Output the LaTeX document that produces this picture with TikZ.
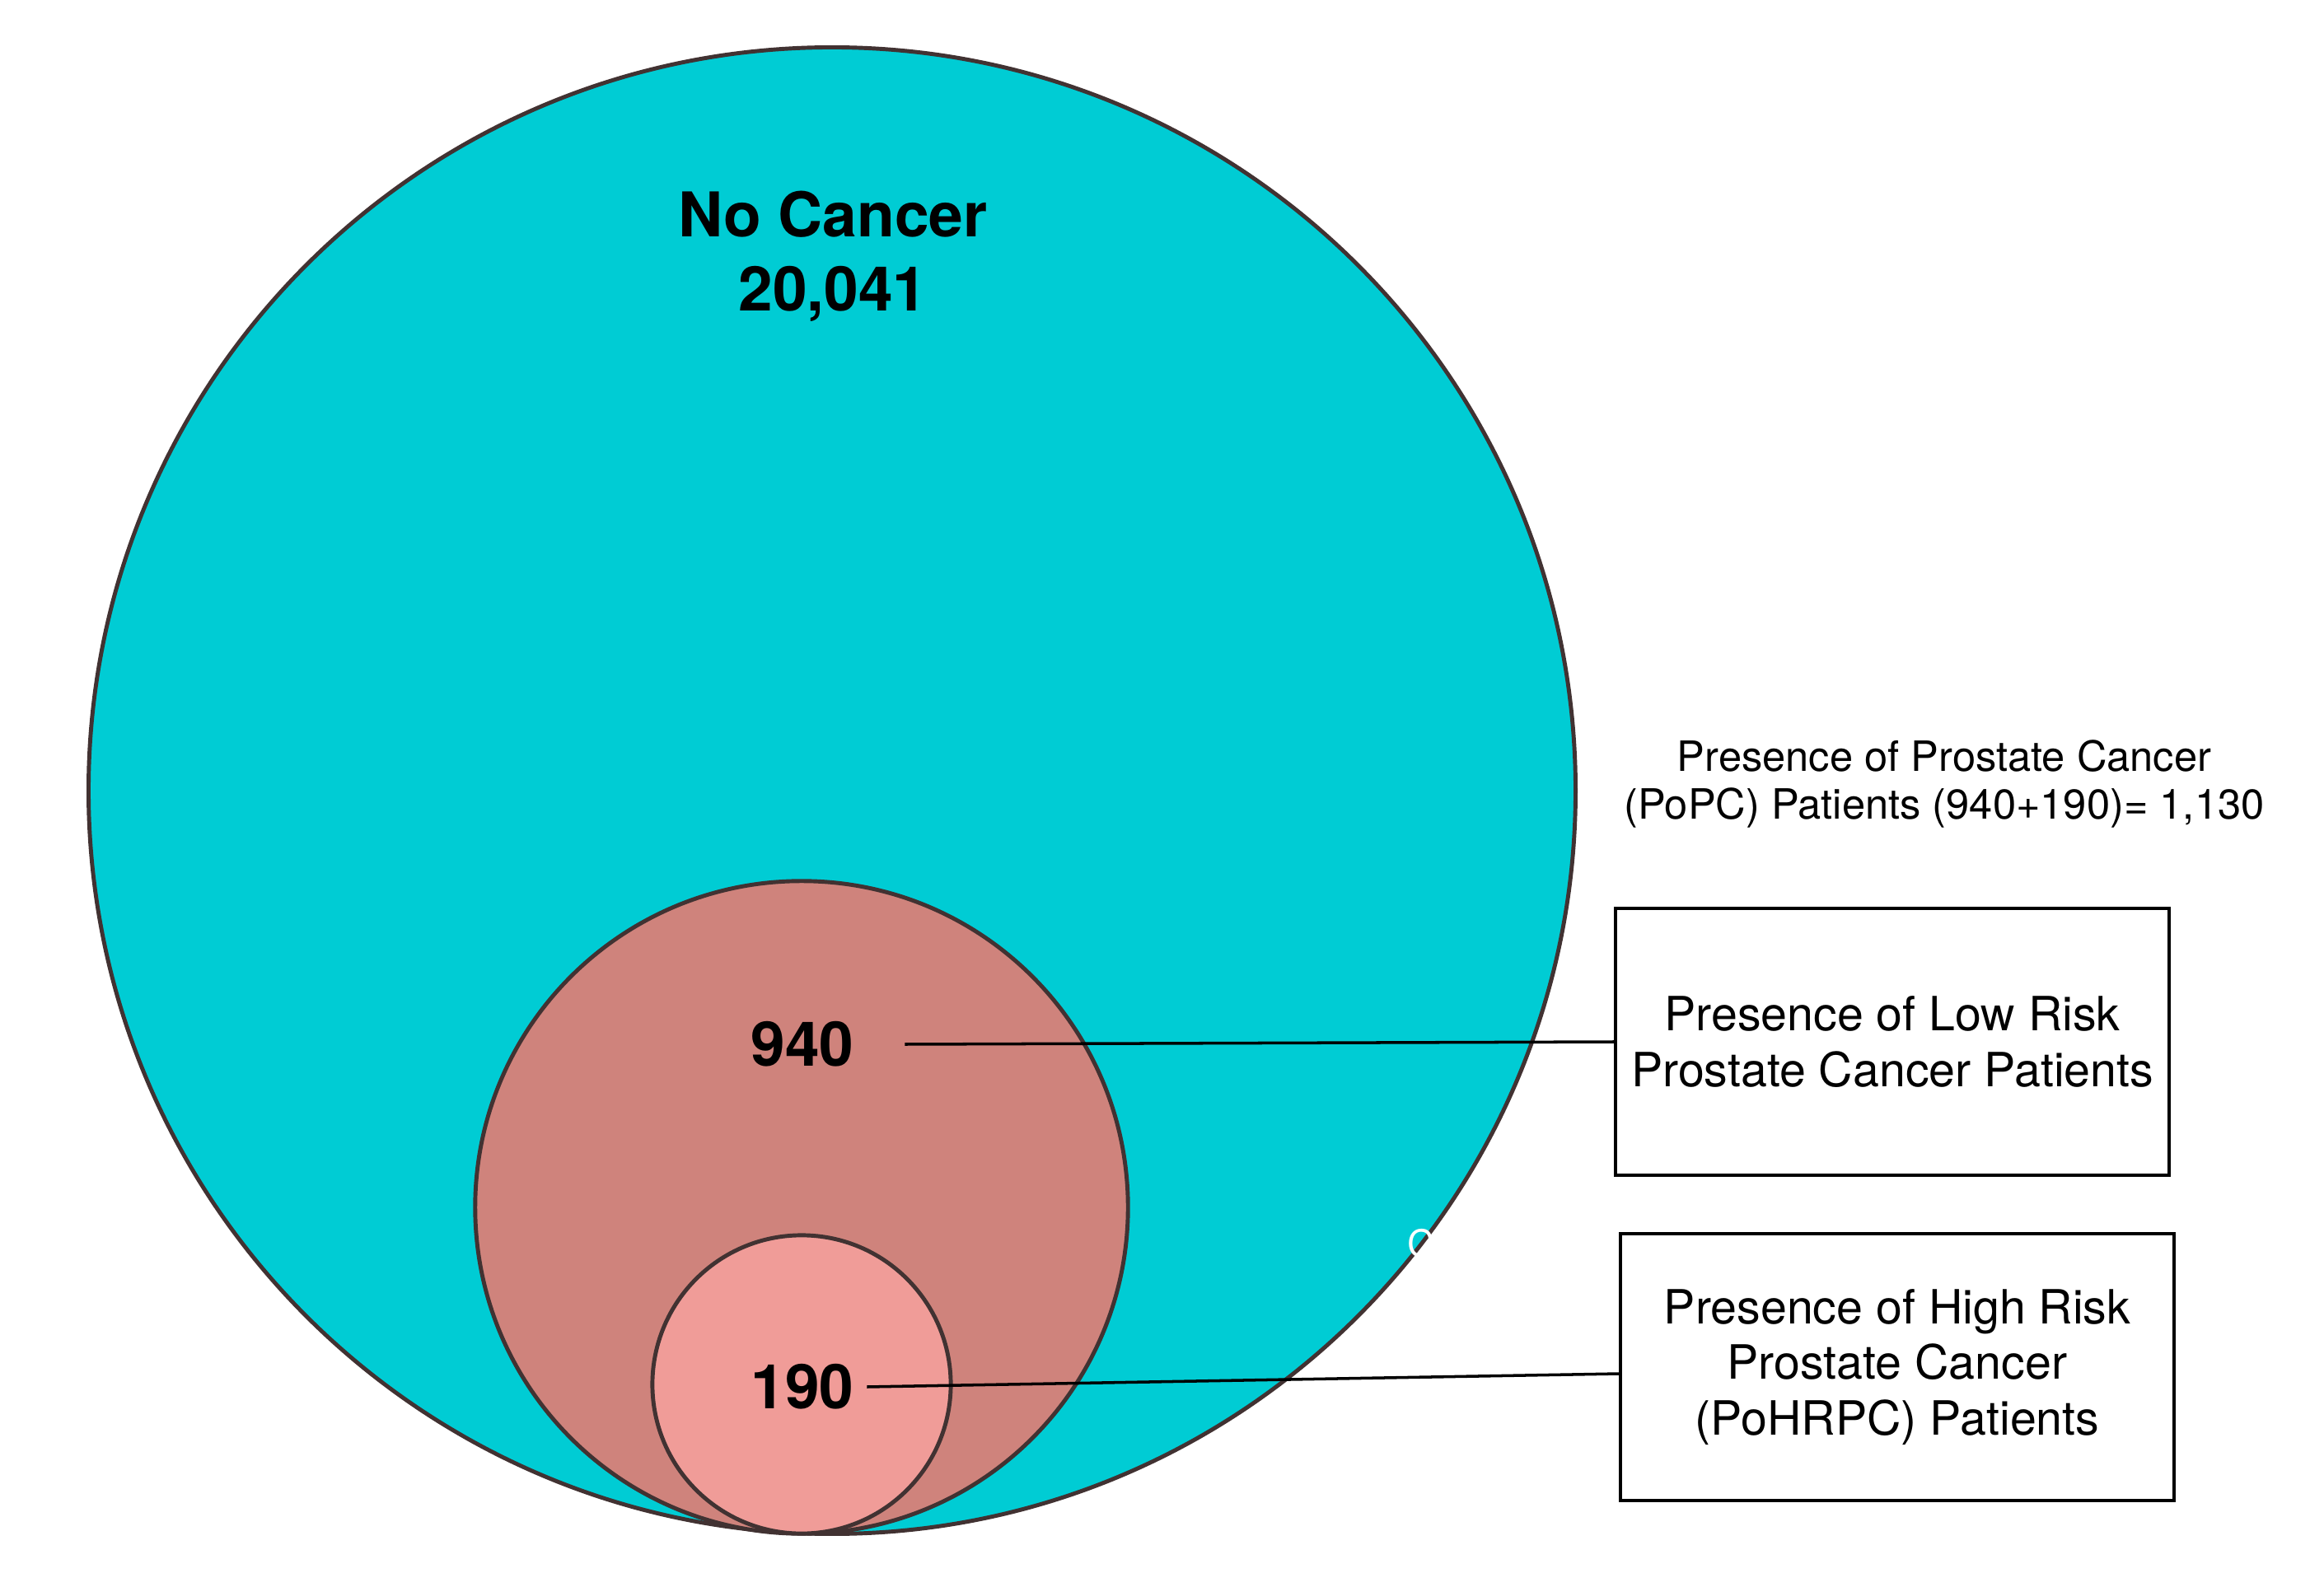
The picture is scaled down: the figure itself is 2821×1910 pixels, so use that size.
\documentclass[tikz,border=0pt]{standalone}
\usepackage{fontspec}
\setmainfont{TeX Gyre Heros}
\usepackage{tikz}
\usetikzlibrary{positioning,shapes}
\usepackage{xcolor}
\definecolor{nocancer}{RGB}{0,204,212}
\definecolor{lowrisk}{RGB}{207,131,124}
\definecolor{highrisk}{RGB}{240,156,152}
\definecolor{rim}{RGB}{65,50,50}

\begin{document}
\begin{tikzpicture}[x=0.01cm, y=-0.01cm, line width=1pt,
    set/.style={circle, draw=rim, line width=1.4pt, inner sep=0pt},
    count/.style={font=\fontsize{21.3}{25.6}\selectfont\bfseries, align=center, inner sep=4pt},
    infobox/.style={rectangle, draw, line width=1pt, align=center,
        font=\fontsize{16.3}{19.2}\selectfont, minimum width=6.72cm, minimum height=3.24cm}]
        \useasboundingbox (0,0) rectangle (2821,1910);
        % nested sets
        \node[set, fill=nocancer, minimum size=18.04cm] (all) at (1010,960) {};
        \node[set, fill=lowrisk, minimum size=7.92cm] (popc) at (973,1466) {};
        \node[set, fill=highrisk, minimum size=3.62cm] (pohrpc) at (973,1681) {};
        \node[count] (nc) at (1011,311) {No Cancer\\20,041};
        \node[count] (n940) at (974,1268) {940};
        \node[count] (n190) at (974,1684) {190};
        \node[text=white, font=\fontsize{13}{13}\selectfont] (stray) at (1725,1510) {C};
        % labels
        \node[align=center, font=\fontsize{14.4}{16.4}\selectfont] (sum) at (2360,952)
            {Presence of Prostate Cancer\\(PoPC) Patients (940+190)= 1,130};
        \node[infobox] (lr) at (2297,1265) {Presence of Low Risk\\Prostate Cancer Patients};
        \node[infobox] (hr) at (2303,1660) {Presence of High Risk\\Prostate Cancer\\(PoHRPC) Patients};
        \draw ([xshift=0.46cm]n940.east) -- (lr.west);
        \draw (n190.east) -- ([yshift=-0.08cm]hr.west);
    \end{tikzpicture}
\end{document}
